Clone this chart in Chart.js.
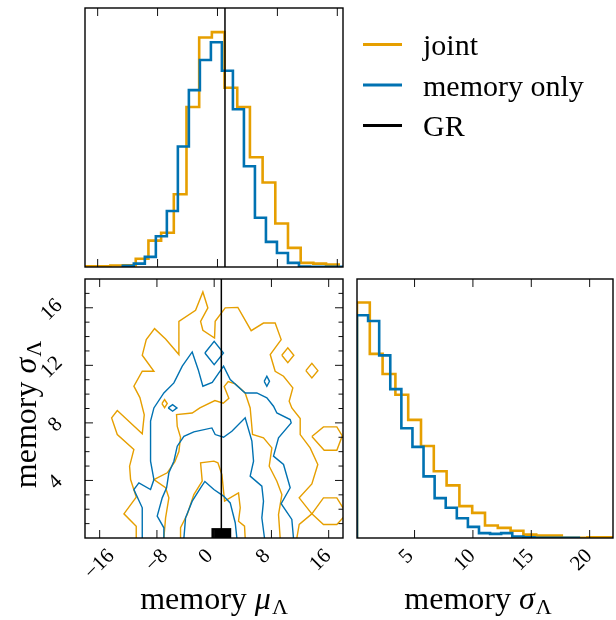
<!DOCTYPE html>
<html>
<head>
<meta charset="utf-8">
<script src="https://cdn.jsdelivr.net/npm/chart.js"></script>
<style>
  body { margin: 0; background: #fff; }
  #wrap { position: relative; width: 616px; height: 620px; }
  #wrap canvas { position: absolute; left: 0; top: 0; }
</style>
</head>
<body>
<div id="wrap">
  <canvas id="muHist" width="616" height="620"></canvas>
  <canvas id="contour" width="616" height="620"></canvas>
  <canvas id="sigmaHist" width="616" height="620"></canvas>
</div>
<script>
// ---- values ----
const muTicks = [-16, -8, 0, 8, 16];
const muTickLabels = ['\u221216', '\u22128', '0', '8', '16'];
const sigmaTicks = [4, 8, 12, 16];
const sigmaTickLabels = ['4', '8', '12', '16'];
const sigmaMinorTicks = [1, 2, 3, 5, 6, 7, 9, 10, 11, 13, 14, 15, 17];
const sigmaHistTicks = [5, 10, 15, 20];
const sigmaHistTickLabels = ['5', '10', '15', '20'];

const legendLabels = ['joint', 'memory only', 'GR'];
const grMu = 1.0;
const grSigma = 0;

// axis limits
const muHistLimits = [-17.69, 16.76];
const muLimits2d = [-18.05, 18.0];
const sigmaLimits2d = [0, 18.0];
const sigmaHistLimits = [0.07, 22.0];

// 1D histograms: [first edge, last edge] + 20 bin heights (scaled to panel height)
const jointMuRange = [-17.69, 16.19];
const jointMuHeights = [0.003, 0.003, 0.006, 0.007, 0.032, 0.102, 0.132, 0.281, 0.618, 0.886,
                        0.907, 0.692, 0.618, 0.424, 0.326, 0.168, 0.074, 0.016, 0.013, 0.009];
const memoryMuRange = [-12.64, 16.76];
const memoryMuHeights = [0.005, 0.013, 0.039, 0.119, 0.216, 0.465, 0.683, 0.799, 0.868, 0.758,
                         0.609, 0.389, 0.19, 0.097, 0.054, 0.016, 0.002, 0.001, 0.001, 0.001];

const jointSigmaRange = [0.07, 22.0];
const jointSigmaHeights = [0.909, 0.711, 0.633, 0.553, 0.456, 0.355, 0.258, 0.203, 0.123, 0.097,
                           0.048, 0.039, 0.028, 0.013, 0.009, 0.009, 0.001, 0.001, 0.003, 0.003];
const memorySigmaRange = [0.07, 19.07];
const memorySigmaHeights = [0.860, 0.838, 0.705, 0.575, 0.424, 0.352, 0.238, 0.154, 0.117, 0.076,
                            0.043, 0.019, 0.016, 0.019, 0.006, 0.003, 0.001, 0.001, 0.001, 0.001];

// 2D contours, [mu, sigma] vertices
const jointOuter = [[-10.89,0],[-10.89,0.82],[-12.61,1.68],[-10.89,2.84],[-11.68,4.06],[-11.82,4.99],
  [-11.22,6.15],[-13.54,7.19],[-14.33,8.35],[-13.54,8.86],[-10.05,7.24],[-9.77,8.56],[-10.38,9.76],
  [-11.22,10.55],[-10.05,11.59],[-8.42,11.59],[-10.05,12.70],[-9.49,13.79],[-8.33,14.55],[-6.79,13.83],
  [-4.93,12.75],[-4.93,15.06],[-2.60,15.82],[-1.58,17.10],[-0.88,15.99],[-1.90,15.06],[-1.58,14.44],
  [0.05,13.90],[0.14,15.06],[1.54,15.99],[3.31,16.03],[5.17,14.41],[6.89,14.94],[8.52,14.94],
  [9.36,13.79],[7.83,12.75],[8.52,11.59],[9.69,11.24],[10.99,10.43],[10.48,9.50],[10.85,9.04],
  [12.02,8.30],[12.02,7.19],[13.41,6.26],[14.48,5.11],[13.65,3.76],[11.88,2.79],[13.65,1.68],
  [11.88,0.94],[11.55,0]];
const jointMiddle = [[-7.03,0],[-6.79,1.40],[-6.33,2.79],[-6.79,3.49],[-8.42,4.06],[-6.56,4.53],
  [-5.49,5.31],[-4.93,6.01],[-4.70,7.00],[-5.16,7.75],[-5.26,8.58],[-3.07,8.69],[-2.00,9.04],
  [0.10,9.55],[1.26,9.37],[2.05,9.71],[1.40,10.52],[1.96,10.87],[2.94,10.71],[4.33,10.08],
  [5.03,9.04],[5.36,7.19],[6.89,6.96],[8.06,6.26],[7.69,4.99],[8.76,3.95],[9.46,3.02],[8.99,1.63],[9.22,0]];
const jointInner = [[-4.70,0],[-4.70,0.71],[-3.77,1.63],[-2.84,3.02],[-1.67,3.95],[-1.90,5.22],
  [-0.04,5.34],[0.52,5.22],[1.08,4.41],[1.45,2.56],[3.40,3.14],[3.64,2.10],[3.40,1.17],[4.24,0.82],[4.33,0]];
const jointIslandA = [[13.65,7.05],[15.27,7.72],[17.14,7.72],[17.9,7.1],[17.14,6.10],[15.37,6.10],[13.65,7.05]];
const jointIslandB = [[13.65,1.68],[15.27,2.79],[17.14,2.79],[18.5,1.68],[17.14,0.94],[15.27,0.94],[13.65,1.68]];
const jointIslandC = [[9.45,12.70],[10.29,13.21],[11.13,12.70],[10.29,12.19],[9.45,12.70]];
const jointIslandD = [[12.81,11.63],[13.65,12.14],[14.49,11.63],[13.65,11.12],[12.81,11.63]];
const jointIslandE = [[-7.30,9.34],[-6.93,9.62],[-6.56,9.34],[-6.93,9.06],[-7.30,9.34]];

const memoryOuter = [[-10.05,0],[-10.05,2.10],[-11.22,3.37],[-10.52,3.83],[-8.89,3.37],[-8.42,4.06],
  [-8.89,5.34],[-8.89,8.12],[-8.42,9.04],[-7.03,10.08],[-5.63,10.78],[-4.46,11.94],[-3.07,12.93],
  [-2.23,11.70],[-1.58,10.55],[-0.27,10.82],[1.31,11.94],[2.24,11.01],[4.33,10.08],[5.96,10.08],
  [7.36,9.74],[8.29,9.16],[8.76,8.69],[10.62,8.23],[10.76,8.00],[8.99,6.96],[8.29,5.69],[9.69,5.11],
  [10.62,3.49],[9.36,2.38],[10.85,1.29],[11.08,0]];
const memoryMiddle = [[-7.03,0],[-7.03,0.71],[-7.96,1.52],[-7.26,2.79],[-6.65,3.49],[-6.33,4.53],
  [-5.63,5.34],[-5.16,6.38],[-4.23,7.07],[-2.84,7.38],[-0.32,7.65],[0.14,7.19],[1.31,7.00],[2.47,7.42],
  [4.33,8.35],[5.27,6.73],[5.50,5.34],[5.03,4.30],[6.66,3.60],[6.89,2.56],[6.66,1.40],[7.03,0]];
const memoryInner = [[-4.23,0],[-4.00,1.40],[-3.07,2.56],[-1.90,3.49],[-1.30,3.93],[-0.04,3.37],
  [1.31,2.91],[2.24,2.44],[2.94,1.06],[3.17,0]];
const memoryIslandA = [[-1.30,12.86],[0,13.67],[1.30,12.86],[0,12.05],[-1.30,12.86]];
const memoryIslandB = [[-6.42,9.04],[-5.81,9.27],[-5.20,9.04],[-5.81,8.81],[-6.42,9.04]];
const memoryIslandC = [[6.99,10.89],[7.36,11.24],[7.73,10.89],[7.36,10.54],[6.99,10.89]];

// ---- styling ----
const ORANGE = '#E69F00';
const BLUE = '#0072B2';
const legendColors = [ORANGE, BLUE, '#000'];
const SERIF = '"Liberation Serif", "Times New Roman", serif';
const LABEL_PX = 32;
const SUB_PX = 22;
const TICK_PX = 21;

// panel boxes as layout padding (left, top, right, bottom) on a 616x620 canvas
const panels = {
    muHist: { left: 85, top: 8, right: 273, bottom: 353 },
    contour: { left: 85, top: 279, right: 273, bottom: 82 },
    sigmaHist: { left: 357, top: 279, right: 3, bottom: 82 }
};

/**
 * Turns bin range + heights into points for a stepped outline.
 */
function stepPoints(range, heights) {
    const w = (range[1] - range[0]) / heights.length;
    const pts = [{ x: range[0], y: 0 }];
    heights.forEach((h, i) => pts.push({ x: range[0] + i * w, y: h }));
    pts.push({ x: range[1], y: heights[heights.length - 1] });
    pts.push({ x: range[1], y: 0 });
    return pts;
}

function histSet(range, heights, color, order) {
    return {
        data: stepPoints(range, heights), showLine: true, stepped: true,
        borderColor: color, borderWidth: 2.6, pointRadius: 0, order: order, clip: 0
    };
}

function contourSet(path, color, order) {
    return {
        data: path.map(p => ({ x: p[0], y: p[1] })), showLine: true,
        borderColor: color, borderWidth: 1.4, pointRadius: 0, order: order, clip: 0
    };
}

function line(ctx, x1, y1, x2, y2) {
    ctx.beginPath();
    ctx.moveTo(x1, y1);
    ctx.lineTo(x2, y2);
    ctx.stroke();
}

// half size of a 45deg rotated label's bounding box
function rotHalf(ctx, text) {
    return (ctx.measureText(text).width + 0.65 * TICK_PX) / (2 * Math.SQRT2);
}

function rotLabel(ctx, text, cx, cy) {
    ctx.save();
    ctx.translate(cx, cy);
    ctx.rotate(-Math.PI / 4);
    ctx.textAlign = 'center';
    ctx.textBaseline = 'middle';
    ctx.fillText(text, 0, 0);
    ctx.restore();
}

// "memory μ_Λ" style label centred at (x, y) baseline
function mathLabel(ctx, x, y, rot, word, sym, sub) {
    ctx.save();
    ctx.translate(x, y);
    ctx.rotate(rot);
    ctx.fillStyle = '#000';
    ctx.textAlign = 'left';
    ctx.textBaseline = 'alphabetic';
    ctx.font = `${LABEL_PX}px ${SERIF}`;
    const w1 = ctx.measureText(word + ' ').width;
    ctx.font = `italic ${LABEL_PX}px ${SERIF}`;
    const w2 = ctx.measureText(sym).width;
    ctx.font = `${SUB_PX}px ${SERIF}`;
    const w3 = ctx.measureText(sub).width;
    let x0 = -(w1 + w2 + 1 + w3) / 2;
    ctx.font = `${LABEL_PX}px ${SERIF}`;
    ctx.fillText(word, x0, 0);
    ctx.font = `italic ${LABEL_PX}px ${SERIF}`;
    ctx.fillText(sym, x0 + w1, 0);
    ctx.font = `${SUB_PX}px ${SERIF}`;
    ctx.fillText(sub, x0 + w1 + w2 + 1, 5);
    ctx.restore();
}

/**
 * Frame, inward ticks and tick labels for one panel.
 */
function decor(spec) {
    return {
        id: 'decor',
        afterDraw(chart) {
            const { ctx, chartArea: a } = chart;
            const xs = chart.scales.x, ys = chart.scales.y;
            ctx.save();
            ctx.strokeStyle = '#111';
            ctx.lineWidth = 1;
            (spec.xTicks || []).forEach(v => {
                const px = xs.getPixelForValue(v);
                line(ctx, px, a.bottom, px, a.bottom - 8);
                line(ctx, px, a.top, px, a.top + 8);
            });
            (spec.yTicks || []).forEach(v => {
                const py = ys.getPixelForValue(v);
                line(ctx, a.left, py, a.left + 8, py);
                line(ctx, a.right, py, a.right - 8, py);
            });
            (spec.yMinor || []).forEach(v => {
                const py = ys.getPixelForValue(v);
                line(ctx, a.left, py, a.left + 4.5, py);
                line(ctx, a.right, py, a.right - 4.5, py);
            });
            ctx.strokeStyle = '#000';
            ctx.lineWidth = 1.4;
            ctx.strokeRect(a.left, a.top, a.right - a.left, a.bottom - a.top);

            ctx.fillStyle = '#000';
            ctx.font = `${TICK_PX}px ${SERIF}`;
            (spec.xLabels || []).forEach((t, i) => {
                const px = xs.getPixelForValue(spec.xTicks[i]);
                const half = rotHalf(ctx, t);
                const dx = t.startsWith('\u2212') ? 0 : -8;
                rotLabel(ctx, t, px + dx, a.bottom + 10 + half);
            });
            (spec.yLabels || []).forEach((t, i) => {
                const py = ys.getPixelForValue(spec.yTicks[i]);
                const half = rotHalf(ctx, t);
                rotLabel(ctx, t, a.left - 21 - half, py + 2);
            });
            if (spec.extra) spec.extra(ctx, a);
            ctx.restore();
        }
    };
}

function baseOptions(pad, xLim, yLim) {
    return {
        responsive: false,
        animation: false,
        events: [],
        layout: { padding: pad },
        plugins: { legend: { display: false }, tooltip: { enabled: false } },
        elements: { point: { radius: 0 }, line: { tension: 0 } },
        scales: {
            x: { type: 'linear', display: false, min: xLim[0], max: xLim[1] },
            y: { type: 'linear', display: false, min: yLim[0], max: yLim[1] }
        }
    };
}

// ---- top-left: mu histogram + legend ----
new Chart(document.getElementById('muHist'), {
    type: 'scatter',
    data: {
        datasets: [
            { data: [{ x: grMu, y: 0 }, { x: grMu, y: 1 }], showLine: true, borderColor: '#000',
              borderWidth: 1.5, pointRadius: 0, order: 0, clip: 0 },
            histSet(memoryMuRange, memoryMuHeights, BLUE, 1),
            histSet(jointMuRange, jointMuHeights, ORANGE, 2)
        ]
    },
    options: baseOptions(panels.muHist, muHistLimits, [0, 1]),
    plugins: [decor({
        xTicks: muTicks,
        extra(ctx) {
            ctx.font = `30px ${SERIF}`;
            ctx.textAlign = 'left';
            ctx.textBaseline = 'alphabetic';
            legendLabels.forEach((lab, i) => {
                const y = 44.5 + i * 40.5;
                ctx.strokeStyle = legendColors[i];
                ctx.lineWidth = 3;
                line(ctx, 363, y, 402, y);
                ctx.fillStyle = '#000';
                ctx.fillText(lab, 423, y + 10.5);
            });
        }
    })]
});

// ---- bottom-left: 2D contours ----
const jointPaths = [jointOuter, jointMiddle, jointInner, jointIslandA, jointIslandB, jointIslandC, jointIslandD, jointIslandE];
const memoryPaths = [memoryOuter, memoryMiddle, memoryInner, memoryIslandA, memoryIslandB, memoryIslandC];

new Chart(document.getElementById('contour'), {
    type: 'scatter',
    data: {
        datasets: [
            { data: [{ x: grMu, y: grSigma }], pointStyle: 'rect', pointRadius: 14,
              backgroundColor: '#000', borderWidth: 0, order: 0, clip: 0 },
            { data: [{ x: grMu, y: sigmaLimits2d[0] }, { x: grMu, y: sigmaLimits2d[1] }], showLine: true,
              borderColor: '#000', borderWidth: 1.5, pointRadius: 0, order: 0, clip: 0 },
            ...memoryPaths.map(p => contourSet(p, BLUE, 1)),
            ...jointPaths.map(p => contourSet(p, ORANGE, 2))
        ]
    },
    options: baseOptions(panels.contour, muLimits2d, sigmaLimits2d),
    plugins: [decor({
        xTicks: muTicks, xLabels: muTickLabels,
        yTicks: sigmaTicks, yLabels: sigmaTickLabels, yMinor: sigmaMinorTicks,
        extra(ctx, a) {
            mathLabel(ctx, (a.left + a.right) / 2, 609, 0, 'memory', '\u03BC', '\u039B');
            mathLabel(ctx, 36, (a.top + a.bottom) / 2 + 6, -Math.PI / 2, 'memory', '\u03C3', '\u039B');
        }
    })]
});

// ---- bottom-right: sigma histogram ----
new Chart(document.getElementById('sigmaHist'), {
    type: 'scatter',
    data: {
        datasets: [
            histSet(memorySigmaRange, memorySigmaHeights, BLUE, 1),
            histSet(jointSigmaRange, jointSigmaHeights, ORANGE, 2)
        ]
    },
    options: baseOptions(panels.sigmaHist, sigmaHistLimits, [0, 1]),
    plugins: [decor({
        xTicks: sigmaHistTicks, xLabels: sigmaHistTickLabels,
        extra(ctx, a) {
            mathLabel(ctx, (a.left + a.right) / 2 - 7, 609, 0, 'memory', '\u03C3', '\u039B');
        }
    })]
});
</script>
</body>
</html>
